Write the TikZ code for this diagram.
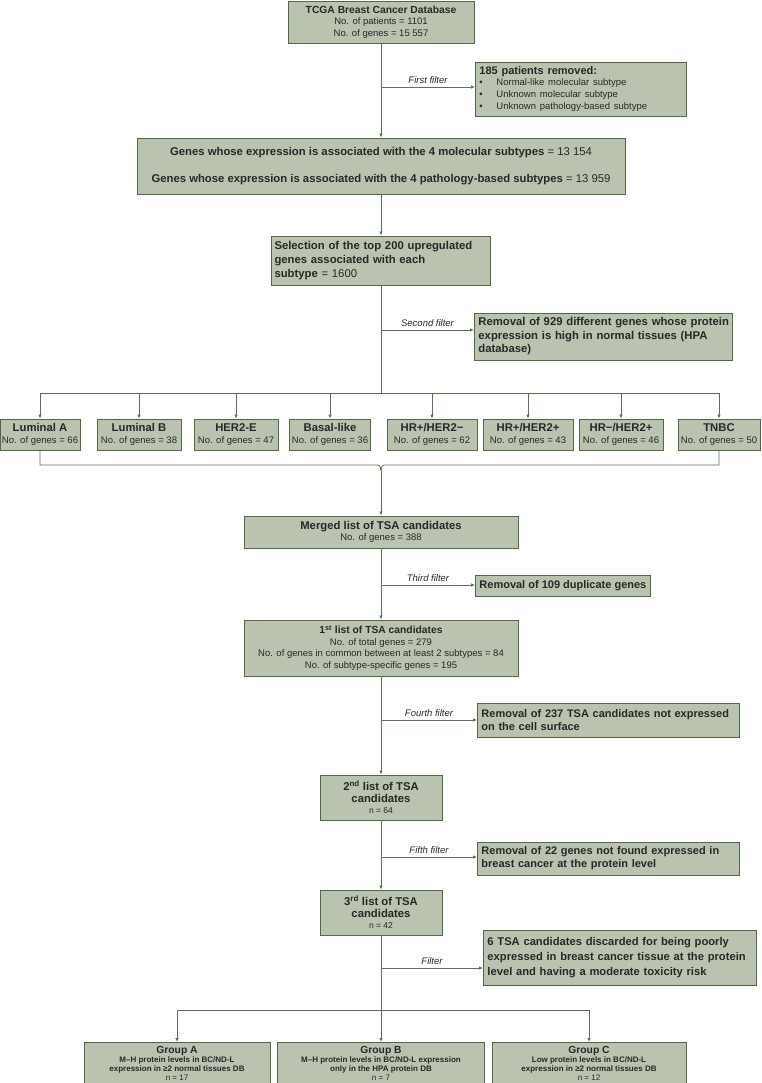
\documentclass[tikz,border=0pt]{standalone}
\usepackage{fontspec}
\setmainfont{Liberation Sans}
\usetikzlibrary{arrows.meta}
\hyphenpenalty=10000
\exhyphenpenalty=10000

\definecolor{boxfill}{RGB}{185,195,175}
\definecolor{boxline}{RGB}{84,104,72}
\definecolor{flowline}{RGB}{96,112,86}
\definecolor{txt}{RGB}{40,40,40}

\newcommand{\hd}{\fontsize{10.3}{12.5}\selectfont\bfseries}
\newcommand{\hdl}{\fontsize{11.3}{13.5}\selectfont\bfseries}
\newcommand{\tx}{\fontsize{9.5}{11.5}\selectfont}
\newcommand{\sm}{\fontsize{8.5}{10}\selectfont}
\newcommand{\gp}{\fontsize{8}{8.8}\selectfont\bfseries}

\begin{document}
\begin{tikzpicture}[x=1pt, y=-1pt]
  \useasboundingbox (0,0) rectangle (761,1083);  % Seitenrahmen.

  \tikzstyle{box}=[draw=boxline, fill=boxfill, line width=0.9pt, inner sep=3pt, text=txt, align=center, font=\tx]
  \tikzstyle{sub}=[box, minimum height=31pt, inner sep=1pt]
  \tikzstyle{note}=[box, align=left, inner xsep=4pt, anchor=west, font=\hdl]
  \tikzstyle{grp}=[box, anchor=north, inner sep=1.5pt, minimum height=41.5pt, font=\gp]
  \tikzstyle{flow}=[draw=flowline, line width=0.8pt]
  \tikzstyle{arr}=[flow, -{Latex[length=4pt, width=3.5pt]}]
  \tikzstyle{filt}=[above, font=\tx\itshape, text=txt, inner sep=3pt]

  \node[box, minimum width=186pt, minimum height=42pt] (tcga) at (381, 22)
    {{\hd TCGA Breast Cancer Database}\\No. of patients = 1101\\No. of genes = 15 557};
  \node[note, text width=203pt, minimum height=54pt] (rem1) at (475, 89)
    {{\fontsize{11}{13}\selectfont 185 patients removed:}\\[-2pt]
     {\tx\mdseries\makebox[17pt][l]{\textbullet}Normal-like molecular subtype}\\[-1.5pt]
     {\tx\mdseries\makebox[17pt][l]{\textbullet}Unknown molecular subtype}\\[-1.5pt]
     {\tx\mdseries\makebox[17pt][l]{\textbullet}Unknown pathology-based subtype}};
  \node[box, minimum width=488pt, minimum height=56pt, font=\fontsize{11.3}{13.5}\selectfont] (genes) at (381, 166)
    {{\bfseries Genes whose expression is associated with the 4 molecular subtypes} = 13 154\\[14pt]
     {\bfseries Genes whose expression is associated with the 4 pathology-based subtypes} = 13 959};
  \node[box, align=left, text width=213pt, minimum height=49pt, font=\fontsize{11.3}{14}\selectfont] (select) at (381, 260.5)
    {\makebox[\linewidth][s]{\bfseries Selection of the top 200 upregulated}\\
     {\bfseries genes associated with each}\\
     {\bfseries subtype} = 1600};
  \node[note, text width=250pt, minimum height=47pt] (rem2) at (474, 336.5)
    {\makebox[\linewidth][s]{Removal of 929 different genes whose protein}\\
     expression is high in normal tissues (HPA\\
     database)};

  \node[sub, minimum width=80pt] (luma)  at (40, 434.5)  {{\hdl Luminal A}\\No. of genes = 66};
  \node[sub, minimum width=84pt] (lumb)  at (139, 434.5) {{\hdl Luminal B}\\No. of genes = 38};
  \node[sub, minimum width=84pt] (her)   at (236, 434.5) {{\hdl HER2-E}\\No. of genes = 47};
  \node[sub, minimum width=81pt] (basal) at (330, 434.5) {{\hdl Basal-like}\\No. of genes = 36};
  \node[sub, minimum width=90pt] (hrpn)  at (432, 434.5) {{\hdl HR+/HER2−}\\No. of genes = 62};
  \node[sub, minimum width=90pt] (hrpp)  at (528, 434.5) {{\hdl HR+/HER2+}\\No. of genes = 43};
  \node[sub, minimum width=84pt] (hrnp)  at (621, 434.5) {{\hdl HR−/HER2+}\\No. of genes = 46};
  \node[sub, minimum width=82pt] (tnbc)  at (719, 434.5) {{\hdl TNBC}\\No. of genes = 50};

  \node[box, minimum width=274pt, minimum height=32pt] (merged) at (381, 532)
    {{\hdl Merged list of TSA candidates}\\No. of genes = 388};
  \node[note, minimum height=21pt, font=\fontsize{11}{13}\selectfont\bfseries] (rem3) at (475, 585.5) {Removal of 109 duplicate genes};
  \node[box, minimum width=274pt, minimum height=56pt] (first) at (381, 648)
    {{\hd 1\textsuperscript{st} list of TSA candidates}\\No. of total genes = 279\\
     No. of genes in common between at least 2 subtypes = 84\\No. of subtype-specific genes = 195};
  \node[note, text width=254pt, minimum height=34pt, font=\fontsize{11}{13}\selectfont\bfseries] (rem4) at (477, 720)
    {Removal of 237 TSA candidates not expressed\\on the cell surface};
  \node[box, minimum width=122pt, minimum height=45pt] (second) at (381, 797.5)
    {{\hdl 2\textsuperscript{nd} list of TSA}\\{\hdl candidates}\\{\sm n = 64}};
  \node[note, text width=254pt, minimum height=33pt, font=\fontsize{11}{13}\selectfont\bfseries] (rem5) at (477, 858.5)
    {Removal of 22 genes not found expressed in\\breast cancer at the protein level};
  \node[box, minimum width=122pt, minimum height=45pt] (third) at (381, 912.5)
    {{\hdl 3\textsuperscript{rd} list of TSA}\\{\hdl candidates}\\{\sm n = 42}};
  \node[note, text width=265pt, minimum height=55pt, font=\fontsize{11.2}{15}\selectfont\bfseries] (rem6) at (483, 957.5)
    {\makebox[\linewidth][s]{6 TSA candidates discarded for being poorly}\\
     \makebox[\linewidth][s]{expressed in breast cancer tissue at the protein}\\
     level and having a moderate toxicity risk};

  \node[grp, minimum width=186pt] (groupa) at (177, 1042)
    {{\hd Group A}\\M–H protein levels in BC/ND-L\\expression in ≥2 normal tissues DB\\{\mdseries n = 17}};
  \node[grp, minimum width=207pt] (groupb) at (381, 1042)
    {{\hd Group B}\\M–H protein levels in BC/ND-L expression\\only in the HPA protein DB\\{\mdseries n = 7}};
  \node[grp, minimum width=194pt] (groupc) at (589, 1042)
    {{\hd Group C}\\Low protein levels in BC/ND-L\\expression in ≥2 normal tissues DB\\{\mdseries n = 12}};

  \coordinate (f1) at (381, 87);
  \coordinate (f2) at (381, 330);
  \coordinate (split) at (381, 393);
  \coordinate (tip) at (381, 471);
  \coordinate (f3) at (381, 585);
  \coordinate (f4) at (381, 720);
  \coordinate (f5) at (381, 857);
  \coordinate (f6) at (381, 968);
  \coordinate (split2) at (381, 1010);

  \draw[arr] (tcga) -- (genes);
  \draw[arr] (f1) -- (f1 -| rem1.west) node[filt, midway] {First filter};
  \draw[arr] (genes) -- (select);
  \draw[flow] (select) -- (split);
  \draw[arr] (f2) -- (f2 -| rem2.west) node[filt, midway] {Second filter};
  \foreach \n in {luma, lumb, her, basal, hrpn, hrpp, hrnp, tnbc}
    \draw[arr] (split) -| (\n);

  \draw[flow] (luma.south) |- (375, 465) .. controls (380, 465) .. (tip);
  \draw[flow] (tnbc.south) |- (387, 465) .. controls (382, 465) .. (tip);
  \draw[arr] (tip) -- (merged);

  \draw[arr] (merged) -- (first);
  \draw[arr] (f3) -- (f3 -| rem3.west) node[filt, midway] {Third filter};
  \draw[arr] (first) -- (second);
  \draw[arr] (f4) -- (f4 -| rem4.west) node[filt, midway] {Fourth filter};
  \draw[arr] (second) -- (third);
  \draw[arr] (f5) -- (f5 -| rem5.west) node[filt, midway] {Fifth filter};
  \draw[flow] (third) -- (split2);
  \draw[arr] (f6) -- (f6 -| rem6.west) node[filt, midway] {Filter};
  \draw[arr] (split2) -| (groupa);
  \draw[arr] (split2) -- (groupb);
  \draw[arr] (split2) -| (groupc);
\end{tikzpicture}
\end{document}
